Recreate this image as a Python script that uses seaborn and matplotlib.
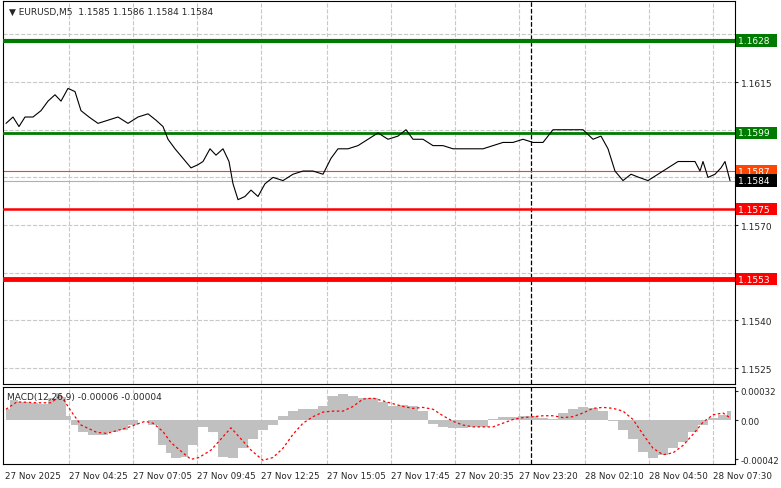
import numpy as np
import pandas as pd
import matplotlib
matplotlib.use('Agg')
import matplotlib.pyplot as plt
import seaborn as sns

# Price trace (x in chart bars, ~2 px per bar)
price_x = [1.5, 5, 8, 11, 15, 19, 22.5, 26, 29, 32.5, 36, 39, 43, 47.5, 52.5, 57.5, 62.5, 67.5, 72.5, 76.5,
           80, 82.5, 86, 90, 94, 97.5, 100, 103.5, 106.5, 110, 113, 115, 117.5, 121, 124, 127.5, 131, 135,
           140, 145, 150, 155, 160, 164, 167.5, 172.5, 177.5, 182.5, 187.5, 192.5, 197.5, 201.5, 205, 210,
           215, 220, 225, 230, 235, 240, 245, 250, 255, 260, 265, 270, 275, 280, 285, 290, 295, 299, 302.5,
           306, 310, 314, 318, 322.5, 327.5, 332.5, 337.5, 342.5, 346, 348.5, 350, 352.5, 356, 359, 361, 363.5]
price = [1.1602, 1.1604, 1.1601, 1.1604, 1.1604, 1.1606, 1.1609, 1.1611, 1.1609, 1.1613, 1.1612, 1.1606,
         1.1604, 1.1602, 1.1603, 1.1604, 1.1602, 1.1604, 1.1605, 1.1603, 1.1601, 1.1597, 1.1594, 1.1591,
         1.1588, 1.1589, 1.1590, 1.1594, 1.1592, 1.1594, 1.1590, 1.1583, 1.1578, 1.1579, 1.1581, 1.1579,
         1.1583, 1.1585, 1.1584, 1.1586, 1.1587, 1.1587, 1.1586, 1.1591, 1.1594, 1.1594, 1.1595, 1.1597,
         1.1599, 1.1597, 1.1598, 1.1600, 1.1597, 1.1597, 1.1595, 1.1595, 1.1594, 1.1594, 1.1594, 1.1594,
         1.1595, 1.1596, 1.1596, 1.1597, 1.1596, 1.1596, 1.1600, 1.1600, 1.1600, 1.1600, 1.1597, 1.1598,
         1.1594, 1.1587, 1.1584, 1.1586, 1.1585, 1.1584, 1.1586, 1.1588, 1.1590, 1.1590, 1.1590, 1.1587,
         1.1590, 1.1585, 1.1586, 1.1588, 1.1590, 1.1584]

# MACD histogram and signal
macd_x = [1.5, 5, 10, 15, 20, 25, 27.5, 30, 32.5, 35, 40, 45, 50, 55, 60, 65, 70, 75, 80, 82.5, 85, 87.5,
          90, 95, 100, 105, 110, 115, 120, 125, 130, 135, 140, 145, 150, 155, 160, 165, 170, 175, 180, 185,
          190, 195, 200, 205, 210, 215, 220, 225, 230, 235, 240, 245, 250, 255, 260, 265, 270, 275, 280,
          285, 290, 295, 300, 305, 310, 315, 320, 325, 330, 335, 340, 345, 350, 355, 360, 364]
macd_hist = [0.00012, 0.00022, 0.00020, 0.00019, 0.00018, 0.00024, 0.00030, 0.00025, 0.00005, -0.00005,
             -0.00012, -0.00016, -0.00016, -0.00013, -0.00010, -0.00005, 0.0, -0.00005, -0.00027, -0.00035,
             -0.00040, -0.00041, -0.00039, -0.00027, -0.00007, -0.00012, -0.00039, -0.00040, -0.00030,
             -0.00020, -0.00010, -0.00005, 0.00005, 0.00010, 0.00012, 0.00012, 0.00015, 0.00026, 0.00028,
             0.00026, 0.00024, 0.00024, 0.00020, 0.00015, 0.00017, 0.00015, 0.00010, -0.00004, -0.00007,
             -0.00008, -0.00008, -0.00007, -0.00007, 0.00002, 0.00004, 0.00004, 0.00005, 0.00005, 0.00003,
             0.00001, 0.00008, 0.00012, 0.00014, 0.00013, 0.00010, -0.00001, -0.00010, -0.00020, -0.00034,
             -0.00040, -0.00037, -0.00030, -0.00023, -0.00012, -0.00005, 0.00003, 0.00006, 0.00010]
signal_x = [1.5, 7, 17, 24, 29, 34, 39, 47, 52, 57, 62, 67, 71, 75, 80, 84, 90, 94, 98, 104, 109, 114, 119,
            124, 130, 135, 140, 145, 150, 155, 160, 165, 170, 175, 180, 185, 190, 195, 200, 205, 210, 215,
            220, 225, 230, 235, 240, 245, 250, 255, 260, 265, 270, 275, 280, 285, 290, 295, 300, 305, 310,
            315, 320, 325, 330, 335, 340, 345, 350, 355, 360, 364]
signal = [0.00012, 0.00020, 0.00019, 0.00019, 0.00027, 0.00010, -0.00005, -0.00013, -0.00014, -0.00011,
          -0.00008, -0.00004, -0.00001, -0.00003, -0.00012, -0.00024, -0.00035, -0.00042, -0.00040,
          -0.00032, -0.00020, -0.00008, -0.00020, -0.00032, -0.00043, -0.00040, -0.00030, -0.00015,
          -0.00003, 0.00004, 0.00009, 0.00010, 0.00010, 0.00015, 0.00023, 0.00024, 0.00021, 0.00018,
          0.00015, 0.00013, 0.00014, 0.00012, 0.00005, -0.00001, -0.00005, -0.00007, -0.00007, -0.00007,
          -0.00003, 0.00001, 0.00003, 0.00004, 0.00005, 0.00005, 0.00003, 0.00004, 0.00008, 0.00013,
          0.00014, 0.00013, 0.00010, 0.00001, -0.00015, -0.00030, -0.00037, -0.00035, -0.00027, -0.00015,
          -0.00002, 0.00006, 0.00008, 0.00002]

# Axis ticks and levels
price_grid = [1.1525, 1.1540, 1.1555, 1.1570, 1.1585, 1.1600, 1.1615, 1.1630]
price_labels = [1.1525, 1.1540, 1.1570, 1.1615]  # the rest sit under the level tags
tick_x = [1, 33, 65, 97, 129, 162, 194, 226, 258, 291, 323, 355]
tick_labels = ['27 Nov 2025', '27 Nov 04:25', '27 Nov 07:05', '27 Nov 09:45', '27 Nov 12:25', '27 Nov 15:05',
               '27 Nov 17:45', '27 Nov 20:35', '27 Nov 23:20', '28 Nov 02:10', '28 Nov 04:50', '28 Nov 07:30']
levels = [1.1628, 1.1599, 1.1575, 1.1553]
level_colors = ['#007a00', '#007a00', '#ff0000', '#ff0000']
level_widths = [3, 2, 1.8, 3.5]
bid, ask = 1.1584, 1.1587
cursor_x = 264

sns.set_style('white')
plt.rcParams['font.family'] = ['DejaVu Sans']
fig = plt.figure(figsize=(7.81, 4.89), dpi=100)
W, H = 781, 489
ax = fig.add_axes([3 / W, 1 - 385 / H, 732 / W, 383 / H])
ax2 = fig.add_axes([3 / W, 1 - 465 / H, 732 / W, 77 / H])
xlim = (0, 366)

grid_kw = dict(color='#c8c8c8', linestyle='--', linewidth=0.8)
for a in (ax, ax2):
    a.set_xlim(*xlim)
    for t in tick_x[1:]:
        a.axvline(t, **grid_kw, zorder=0)
    a.axvline(cursor_x, color='black', linestyle='--', linewidth=0.9, zorder=1)
    for s in a.spines.values():
        s.set_color('black')
        s.set_linewidth(0.8)
    a.yaxis.tick_right()
    a.tick_params(axis='both', labelsize=6.5, length=2, pad=2)

# Main price panel
ax.set_ylim(1.1520, 1.16405)
for t in price_grid:
    ax.axhline(t, **grid_kw, zorder=0)
ax.set_yticks(price_labels)
ax.set_yticklabels([f'{t:.4f}' for t in price_labels])
ax.set_xticks([])
ax.axhline(ask, color='#ff4500', linewidth=0.8, zorder=2)
ax.axhline(bid, color='#b0b0b0', linewidth=0.8, zorder=2)
for lv, c, lw in zip(levels, level_colors, level_widths):
    ax.axhline(lv, color=c, linewidth=lw, zorder=3)
df = pd.DataFrame({'x': price_x, 'price': price})
sns.lineplot(data=df, x='x', y='price', ax=ax, color='black', linewidth=0.8, zorder=4)
ax.set_xlabel('')
ax.set_ylabel('')

def tag(a, y, text, bg):
    a.text(1.004, y, text + '  ', transform=a.get_yaxis_transform(), fontsize=6.5, color='white',
           va='center', ha='left', zorder=6,
           bbox=dict(boxstyle='square,pad=0.2', fc=bg, ec='none'))

for lv, c in zip(levels, level_colors):
    tag(ax, lv, f'{lv:.4f}', c)
tag(ax, ask, f'{ask:.4f}', '#ff4500')
tag(ax, bid, f'{bid:.4f}', 'black')
ax.text(0.008, 0.985, '\u25bc EURUSD,M5  1.1585 1.1586 1.1584 1.1584', transform=ax.transAxes,
        fontsize=6.5, va='top', ha='left')

# MACD panel
ax2.set_ylim(-0.00047, 0.00036)
ax2.set_yticks([-0.00042, 0.0, 0.00032])
ax2.set_yticklabels(['-0.00042', '0.00', '0.00032'])
ax2.fill_between(macd_x, macd_hist, 0, step='mid', color='#c0c0c0', linewidth=0, zorder=2)
sdf = pd.DataFrame({'x': signal_x, 'signal': signal})
sns.lineplot(data=sdf, x='x', y='signal', ax=ax2, color='red', linewidth=0.9, linestyle=(0, (2, 2)), zorder=3)
ax2.set_xlabel('')
ax2.set_ylabel('')
ax2.set_xticks(tick_x)
ax2.set_xticklabels(tick_labels, ha='left')
ax2.tick_params(axis='x', length=3, labelsize=6.3)
ax2.tick_params(axis='y', labelsize=6.2)
ax2.text(0.005, 0.93, 'MACD(12,26,9) -0.00006 -0.00004', transform=ax2.transAxes, fontsize=6.5, va='top')

fig.savefig('out.png', dpi=100)
